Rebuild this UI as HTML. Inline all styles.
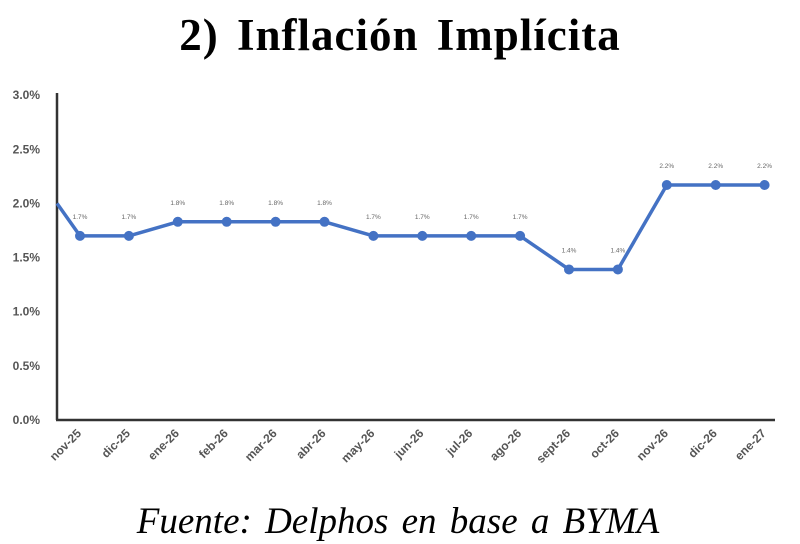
<!DOCTYPE html>
<html><head><meta charset="utf-8"><style>
body{margin:0;background:#fff;width:800px;height:544px;overflow:hidden}
svg{display:block}
</style></head><body>
<svg width="800" height="544">
<text x="400" y="50" text-anchor="middle" font-family="Liberation Serif, serif" font-weight="bold" font-size="45" letter-spacing="1" word-spacing="6" fill="#000">2)  Inflación Implícita</text>
<text x="398" y="533" text-anchor="middle" font-family="Liberation Serif, serif" font-style="italic" font-size="37" word-spacing="4" fill="#000">Fuente:  Delphos en base a BYMA</text>
<g id="axes"></g>
<g id="series"></g>
<g id="labels"></g>
</svg>
<script>
const categories=["nov-25","dic-25","ene-26","feb-26","mar-26","abr-26","may-26","jun-26","jul-26","ago-26","sept-26","oct-26","nov-26","dic-26","ene-27"];
const values=[1.70,1.70,1.83,1.83,1.83,1.83,1.70,1.70,1.70,1.70,1.39,1.39,2.17,2.17,2.17];
const valueLabels=["1.7%","1.7%","1.8%","1.8%","1.8%","1.8%","1.7%","1.7%","1.7%","1.7%","1.4%","1.4%","2.2%","2.2%","2.2%"];
const priorValue=2.0;
const yTicks=[0,0.5,1.0,1.5,2.0,2.5,3.0];
const yTickLabels=["0.0%","0.5%","1.0%","1.5%","2.0%","2.5%","3.0%"];

const NS="http://www.w3.org/2000/svg";
const X0=80,DX=48.9,Y0=420,PX=108.3,AXX=57;
const xs=i=>X0+i*DX;
const ys=v=>Y0-v*PX;
function mk(tag,attrs,parent,text){const e=document.createElementNS(NS,tag);for(const k in attrs)e.setAttribute(k,attrs[k]);if(text!==undefined)e.textContent=text;parent.appendChild(e);return e;}
const axes=document.getElementById('axes'),series=document.getElementById('series'),labels=document.getElementById('labels');

yTicks.forEach((t,i)=>{
  const e=mk('text',{x:40,y:ys(t)+4,'text-anchor':'end','font-family':'Liberation Sans, sans-serif','font-weight':'bold','font-size':'12',fill:'#555'},axes,yTickLabels[i]);
  
  
});
const ya=mk('line',{x1:AXX,y1:93,x2:AXX,y2:Y0,stroke:'#333','stroke-width':2.5},axes);


const xa=mk('line',{x1:56,y1:Y0,x2:775,y2:Y0,stroke:'#333','stroke-width':2.5},axes);



categories.forEach((c,i)=>{
  const x=xs(i)+2,y=Y0+14;
  const e=mk('text',{x:x,y:y,'text-anchor':'end','font-family':'Liberation Sans, sans-serif','font-weight':'bold','font-size':'12',fill:'#555',transform:`rotate(-45 ${x} ${y})`},axes,c);
  
  
});

let pts=[[AXX,ys(priorValue)]].concat(values.map((v,i)=>[xs(i),ys(v)]));
const line=mk('polyline',{points:pts.map(p=>p.join(',')).join(' '),fill:'none',stroke:'#4472C4','stroke-width':3.5,'stroke-linejoin':'round'},series);


values.forEach((v,i)=>{
  const c=mk('circle',{cx:xs(i),cy:ys(v),r:5,fill:'#4472C4'},series);
  
  
  const t=mk('text',{x:xs(i),y:ys(v)-17,'text-anchor':'middle','font-family':'Liberation Sans, sans-serif','font-size':'6.5',fill:'#666'},labels,valueLabels[i]);
  
  
});
</script>
</body></html>
